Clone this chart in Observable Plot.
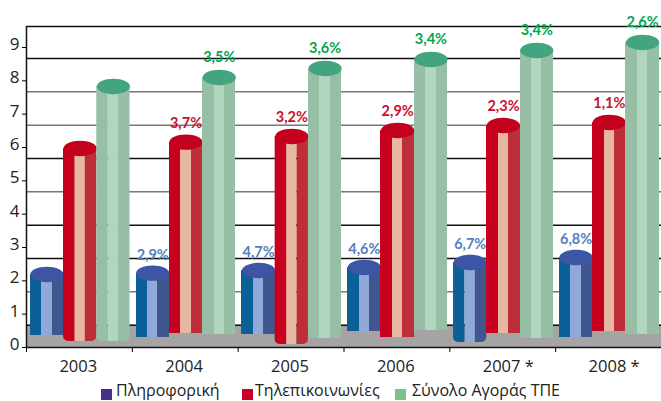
<!DOCTYPE html>
<html><head><meta charset="utf-8">
<script src="https://cdn.jsdelivr.net/npm/d3@7"></script>
<script src="https://cdn.jsdelivr.net/npm/@observablehq/plot@0.6"></script>
<style>
html,body{margin:0;padding:0;background:#fff;overflow:hidden}
#legend{position:absolute;left:0;top:381px;width:661px;height:18px;font:16px/18px "Open Sans",sans-serif;color:#222}
#legend span{position:absolute;top:0;white-space:nowrap}
#legend i{position:absolute;top:8px;width:11px;height:11px}
</style></head><body>
<div id="chart"></div><div id="legend"></div>
<script>
const years = ["2003","2004","2005","2006","2007 *","2008 *"];
const seriesNames = ["Πληροφορική","Τηλεπικοινωνίες","Σύνολο Αγοράς ΤΠΕ"];
const itTop = [2.19,2.23,2.31,2.40,2.55,2.70];
const itBase = [0.36,0.30,0.39,0.48,0.15,0.30];
const telTop = [5.97,6.16,6.33,6.51,6.66,6.75];
const telBase = [0.18,0.42,0.09,0.30,0.42,0.48];
const allTop = [7.83,8.10,8.37,8.64,8.91,9.15];
const allBase = [0.18,0.39,0.27,0.51,0.27,0.39];
const itGrowth = [null,"2,9%","4,7%","4,6%","6,7%","6,8%"];
const telGrowth = [null,"3,7%","3,2%","2,9%","2,3%","1,1%"];
const allGrowth = [null,"3,5%","3,6%","3,4%","3,4%","2,6%"];
const wallLines = [0.67,1.67,2.67,3.67,4.67,5.67,6.67,7.67,8.67];
const wallDark = [1,0,1,1,0,1,0,0,1];

const palette = [
  {strip:["#0a6097","#91a9d9","#3f568f"],cap:"#3c55a5",legend:"#47308a",label:"#4f82bd"},
  {strip:["#c8001f","#e8b7a0","#bd2d3a"],cap:"#c4001f",legend:"#c8002a",label:"#c8102e"},
  {strip:["#97bfa6","#b0d6bf","#97bfa6"],cap:"#43a57f",legend:"#7bc288",label:"#00a650"}
];
const tops=[itTop,telTop,allTop], bases=[itBase,telBase,allBase], growth=[itGrowth,telGrowth,allGrowth];
const yMax=9.63, gap=0.035, unit=0.3145;
const stripEdges=[0,0.345,0.655,1];

const cols=[];
tops.forEach((t,s)=>t.forEach((v,i)=>{
  const x0=i+gap+s*unit;
  cols.push({s,i,x0,x1:x0+unit,cx:x0+unit/2,top:v,base:bases[s][i],label:growth[s][i]});
}));
const strips=(k)=>cols.map(c=>({...c,sx1:c.x0+stripEdges[k]*unit,sx2:c.x0+stripEdges[k+1]*unit,fill:palette[c.s].strip[k]}));
const ellipse={draw(ctx,size){
  const rx=Math.sqrt(size/Math.PI), ry=rx*0.46, kx=rx*0.5523, ky=ry*0.5523;
  ctx.moveTo(-rx,0);
  ctx.bezierCurveTo(-rx,-ky,-kx,-ry,0,-ry);
  ctx.bezierCurveTo(kx,-ry,rx,-ky,rx,0);
  ctx.bezierCurveTo(rx,ky,kx,ry,0,ry);
  ctx.bezierCurveTo(-kx,ry,-rx,ky,-rx,0);
  ctx.closePath();
}};
const rectOpts=(extra)=>({x1:"sx1",x2:"sx2",y1:"base",y2:"top",fill:"fill",...extra});
const lowBase=d=>d.base<0.2;
const font='"Open Sans",sans-serif';

const marks=[
  Plot.rect([{}],{x1:0,x2:6,y1:0,y2:0.67,fill:"#a5a3a4"}),
  Plot.ruleY(wallLines.filter((_,i)=>wallDark[i]),{stroke:"#111",strokeWidth:1.5}),
  Plot.ruleY(wallLines.filter((_,i)=>!wallDark[i]),{stroke:"#777",strokeWidth:1.5}),
  Plot.ruleY([yMax],{stroke:"#111",strokeWidth:1.5}),
  Plot.ruleX([0],{stroke:"#111",strokeWidth:1.5}),
  Plot.ruleY([0],{stroke:"#111",strokeWidth:1.5}),
  Plot.axisY({ticks:d3.range(0,10),tickSize:4,tickFormat:()=>"",label:null}),
  Plot.axisY({ticks:d3.range(0,10),tickSize:0,tickPadding:7,dy:-3,fontSize:17,color:"#222",fontFamily:font,label:null}),
  Plot.axisX({ticks:d3.range(0,7),tickSize:5,tickFormat:()=>"",label:null}),
  Plot.text(years,{x:(_,i)=>i+0.5,y:()=>0,text:d=>d,textAnchor:"start",dx:-20,dy:19,fontSize:16.5,fill:"#222",fontFamily:font,letterSpacing:"0.5px"})
];
for(let s=0;s<3;s++){
  const only=d=>d.s===s;
  const crisp={shapeRendering:"crispEdges"};
  marks.push(Plot.rect(strips(0).filter(d=>only(d)&&!lowBase(d)),rectOpts(crisp)));
  marks.push(Plot.rect(strips(1).filter(only),rectOpts(crisp)));
  marks.push(Plot.rect(strips(2).filter(d=>only(d)&&!lowBase(d)),rectOpts(crisp)));
  marks.push(Plot.rect(strips(0).filter(d=>only(d)&&lowBase(d)),rectOpts({rx1y1:5})));
  marks.push(Plot.rect(strips(2).filter(d=>only(d)&&lowBase(d)),rectOpts({rx2y1:5})));
  marks.push(Plot.dot(cols.filter(only),{x:"cx",y:"top",r:16.6,symbol:ellipse,fill:palette[s].cap,stroke:null}));
}
[0,1,2].forEach(s=>{
  marks.push(Plot.text(cols.filter(d=>d.s===s&&d.label),{x:"cx",y:"top",text:"label",dy:[-18,-19,-20][s],fill:palette[s].label,fontSize:14.5,fontWeight:700,fontFamily:"Lato, sans-serif"}));
});

const chart=Plot.plot({
  width:661,height:381,marginLeft:26,marginRight:0,marginTop:26,marginBottom:34,
  x:{type:"linear",domain:[0,6],range:[26,661],axis:null},
  y:{domain:[0,yMax],range:[347,26],axis:null},
  color:{type:"identity"},
  style:{background:"#fff",overflow:"visible"},
  marks
});
document.getElementById("chart").appendChild(chart);

const lg=document.getElementById("legend");
[[101,116],[242,255],[395,412]].forEach(([a,b],i)=>{
  const sq=document.createElement("i");sq.style.left=a+"px";sq.style.background=palette[i].legend;lg.appendChild(sq);
  const t=document.createElement("span");t.style.left=b+"px";t.textContent=seriesNames[i];lg.appendChild(t);
});
</script></body></html>
